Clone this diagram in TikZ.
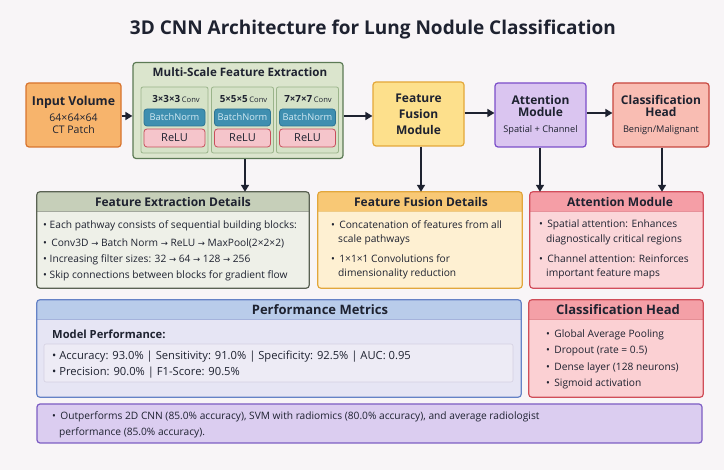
\documentclass[tikz,border=0pt]{standalone}
\usepackage{fontspec}
\setmainfont{Open Sans}
\newfontfamily\symfont{DejaVu Sans}
\usetikzlibrary{arrows.meta}
\newcommand\rarr{{\symfont\fontsize{8.5}{9}\selectfont →}}
\definecolor{bg}{HTML}{F8F5F7}
\definecolor{ink}{HTML}{1E2230}
\definecolor{inF}{HTML}{F7B46C}\definecolor{inB}{HTML}{D8742E}
\definecolor{msF}{HTML}{DBE5CD}\definecolor{msB}{HTML}{5C7A55}
\definecolor{colF}{HTML}{D5E2C7}\definecolor{colB}{HTML}{9AB48A}
\definecolor{bnF}{HTML}{3F8FB0}\definecolor{bnB}{HTML}{2D7394}\definecolor{bnT}{HTML}{D2EAF3}
\definecolor{rlF}{HTML}{F5C5CB}\definecolor{rlB}{HTML}{C84E5C}
\definecolor{fuF}{HTML}{FDE08C}\definecolor{fuB}{HTML}{E3A83A}
\definecolor{atF}{HTML}{DAC5F0}\definecolor{atB}{HTML}{7B4EC9}
\definecolor{clF}{HTML}{F9BDB3}\definecolor{clB}{HTML}{C7473F}
\definecolor{feH}{HTML}{C6CFB9}\definecolor{feF}{HTML}{EEF0E8}\definecolor{feB}{HTML}{5A6253}
\definecolor{ffH}{HTML}{F8C875}\definecolor{ffF}{HTML}{FEF0D2}\definecolor{ffB}{HTML}{E2A73C}
\definecolor{amH}{HTML}{F59EA6}\definecolor{amF}{HTML}{FBD6D9}\definecolor{amB}{HTML}{D24E5C}
\definecolor{pmH}{HTML}{B9CCEA}\definecolor{pmF}{HTML}{E6E5F4}\definecolor{pmB}{HTML}{6582C6}
\definecolor{piF}{HTML}{EDEBF5}\definecolor{piB}{HTML}{D4D0E2}
\definecolor{chH}{HTML}{F4A0A7}\definecolor{chF}{HTML}{FBD0D3}\definecolor{chB}{HTML}{D04E59}
\definecolor{boF}{HTML}{DBCDF0}\definecolor{boB}{HTML}{7D5DC3}
\tikzset{
  mainbox/.style={rounded corners=3pt, line width=1.2pt, align=center, inner sep=0pt},
  colbox/.style={rounded corners=2pt, line width=0.8pt, fill=colF, draw=colB, minimum height=66pt, inner sep=0pt},
  bnbox/.style={rounded corners=3pt, line width=0.8pt, fill=bnF, draw=bnB, text=bnT, minimum height=17pt, inner sep=0pt, font=\fontsize{9.3}{9}\selectfont},
  relubox/.style={rounded corners=3pt, line width=0.8pt, fill=rlF, draw=rlB, minimum height=18pt, inner sep=0pt, font=\fontsize{11}{12}\selectfont},
  panel/.style={rounded corners=3pt, inner sep=0pt},
  flow/.style={-{Triangle[length=7pt,width=8pt]}, line width=1.6pt, draw=ink},
  hdr/.style={font=\bfseries\fontsize{12}{13}\selectfont},
  txt/.style={anchor=west, inner sep=0pt, yshift=-1.5pt, font=\fontsize{10.2}{12}\selectfont},
}
\newcommand\mkpanel[6]{%
  \node[panel, fill=#6F, minimum width={#4-#2}, minimum height={#5-#3}] (#1) at ({(#2+#4)/2},{(#3+#5)/2}) {};
  \begin{scope}
    \clip[rounded corners=3pt] (#1.north west) rectangle (#1.south east);
    \fill[#6H] (#1.north west) rectangle ([yshift=-19pt]#1.north east);
  \end{scope}
  \draw[#6B, line width=0.5pt, opacity=.5] ([yshift=-19pt]#1.north west) -- ([yshift=-19pt]#1.north east);
  \draw[#6B, line width=1.2pt, rounded corners=3pt] (#1.north west) rectangle (#1.south east);
}
\begin{document}
\begin{tikzpicture}[x=1pt,y=-1pt, text=ink]
\fill[bg] (0,0) rectangle (724,470);
\useasboundingbox (0,0) rectangle (724,470);

\node[font=\bfseries\fontsize{19}{21}\selectfont] (title) at (373,30) {3D CNN Architecture for Lung Nodule Classification};

% Input
\node[mainbox, fill=inF, draw=inB, minimum width=95pt, minimum height=64pt] (input) at (73.5,115)
  {{\bfseries\fontsize{12.3}{14}\selectfont Input Volume}\\[4pt]{\fontsize{10.5}{14}\selectfont 64×64×64}\\{\fontsize{10.5}{14}\selectfont CT Patch}};

% Multi-scale
\node[mainbox, fill=msF, draw=msB, minimum width=210pt, minimum height=96pt] (multi) at (238,110.5) {};
\node[font=\bfseries\fontsize{11.6}{12}\selectfont] (mstitle) at (240,72) {Multi-Scale Feature Extraction};

\node[colbox, minimum width=67pt] (c1) at (174.5,120) {};
\node[colbox, minimum width=62pt] (c2) at (242.5,120) {};
\node[colbox, minimum width=62pt] (c3) at (307.5,120) {};
\node[font=\bfseries\fontsize{9.8}{10}\selectfont] (c1t) at (176,99) {3×3×3\,{\mdseries\fontsize{7.6}{8}\selectfont Conv}};
\node[font=\bfseries\fontsize{9.8}{10}\selectfont] (c2t) at (243.5,99) {5×5×5\,{\mdseries\fontsize{7.6}{8}\selectfont Conv}};
\node[font=\bfseries\fontsize{9.8}{10}\selectfont] (c3t) at (308,99) {7×7×7\,{\mdseries\fontsize{7.6}{8}\selectfont Conv}};
\node[bnbox, minimum width=61pt] (c1b) at (174.5,117.5) {BatchNorm};
\node[bnbox, minimum width=56pt] (c2b) at (242.5,117.5) {BatchNorm};
\node[bnbox, minimum width=56pt] (c3b) at (307.5,117.5) {BatchNorm};
\node[relubox, minimum width=61pt] (c1r) at (174.5,138) {ReLU};
\node[relubox, minimum width=56pt] (c2r) at (242.5,138) {ReLU};
\node[relubox, minimum width=56pt] (c3r) at (307.5,138) {ReLU};

% Top row modules
\node[mainbox, fill=fuF, draw=fuB, minimum width=91pt, minimum height=64pt, font=\bfseries\fontsize{12}{16}\selectfont] (fusion) at (418.5,114) {Feature\\Fusion\\Module};
\node[mainbox, fill=atF, draw=atB, minimum width=91pt, minimum height=64pt] (atten) at (540.5,115)
  {{\bfseries\fontsize{12}{15}\selectfont Attention}\\{\bfseries\fontsize{12}{15}\selectfont Module}\\[4pt]{\fontsize{9.2}{10}\selectfont Spatial + Channel}};
\node[mainbox, fill=clF, draw=clB, minimum width=96pt, minimum height=64pt] (cls) at (661,115)
  {{\bfseries\fontsize{12}{15}\selectfont Classification}\\{\bfseries\fontsize{12}{15}\selectfont Head}\\[4pt]{\fontsize{9.2}{10}\selectfont Benign/Malignant}};

% Panels
\mkpanel{fed}{37}{192}{309}{288}{fe}
\mkpanel{ffd}{318}{192}{522}{288}{ff}
\mkpanel{amd}{530}{192}{703}{288}{am}
\mkpanel{pmd}{37}{300}{521}{397}{pm}
\mkpanel{chd}{529}{300}{703}{397}{ch}

\node[hdr] (fedh) at (173,202) {Feature Extraction Details};
\node[txt] (fe1) at (43,224) {• Each pathway consists of sequential building blocks:};
\node[txt] (fe2) at (43,242) {• \,Conv3D \rarr\ Batch Norm \rarr\ ReLU \rarr\ MaxPool(2×2×2)};
\node[txt] (fe3) at (43,258) {• Increasing filter sizes: 32 \rarr\ 64 \rarr\ 128 \rarr\ 256};
\node[txt] (fe4) at (43,274) {• Skip connections between blocks for gradient flow};

\node[hdr] (ffdh) at (421,202) {Feature Fusion Details};
\node[txt] (ff1) at (331,223) {• \,Concatenation of features from all};
\node[txt] (ff2) at (338,238) {scale pathways};
\node[txt] (ff3) at (331,257) {• \,1×1×1 Convolutions for};
\node[txt] (ff4) at (338,272) {dimensionality reduction};

\node[hdr] (amdh) at (620,202) {Attention Module};
\node[txt] (am1) at (539,223) {• \,Spatial attention: Enhances};
\node[txt] (am2) at (546,238) {diagnostically critical regions};
\node[txt] (am3) at (539,257) {• \,Channel attention: Reinforces};
\node[txt] (am4) at (546,272) {important feature maps};

\node[hdr, font=\bfseries\fontsize{13}{14}\selectfont] (pmdh) at (320,310) {Performance Metrics};
\node[txt, font=\bfseries\fontsize{11.2}{12}\selectfont] (pmm) at (52,333) {Model Performance:};
\node[panel, fill=piF, draw=piB, line width=0.6pt, rounded corners=2pt, minimum width=469pt, minimum height=38pt] (pin) at (278.5,363) {};
\node[txt, font=\fontsize{11.2}{12}\selectfont] (pm1) at (52,355) {• Accuracy: 93.0\% | Sensitivity: 91.0\% | Specificity: 92.5\% | AUC: 0.95};
\node[txt, font=\fontsize{11.2}{12}\selectfont] (pm2) at (52,371) {• Precision: 90.0\% | F1-Score: 90.5\%};

\node[hdr, font=\bfseries\fontsize{13}{14}\selectfont] (chdh) at (618,310) {Classification Head};
\node[txt] (ch1) at (546,333) {• \,Global Average Pooling};
\node[txt] (ch2) at (546,350) {• \,Dropout (rate = 0.5)};
\node[txt] (ch3) at (546,366) {• \,Dense layer (128 neurons)};
\node[txt] (ch4) at (546,382) {• \,Sigmoid activation};

% Bottom
\node[mainbox, fill=boF, draw=boB, minimum width=665pt, minimum height=39pt] (bot) at (369.5,423.5) {};
\node[txt] (bo1) at (52,415) {• \,Outperforms 2D CNN (85.0\% accuracy), SVM with radiomics (80.0\% accuracy), and average radiologist};
\node[txt] (bo2) at (59,431) {performance (85.0\% accuracy).};

% Connectors
\draw[flow] (input.east |- 0,116) -- (multi.west |- 0,116);
\draw[flow] (multi.east |- 0,116) -- (fusion.west |- 0,116);
\draw[flow] (fusion.east |- 0,113) -- (atten.west |- 0,113);
\draw[flow] (atten.east |- 0,113) -- (cls.west |- 0,113);
\draw[flow] (multi.south -| 245,0) -- (fed.north -| 245,0);
\draw[flow] (fusion.south -| 421,0) -- (ffd.north -| 421,0);
\draw[flow] (atten.south -| 540,0) -- (amd.north -| 540,0);
\draw[flow] (cls.south -| 662,0) -- (amd.north -| 662,0);
\end{tikzpicture}
\end{document}
